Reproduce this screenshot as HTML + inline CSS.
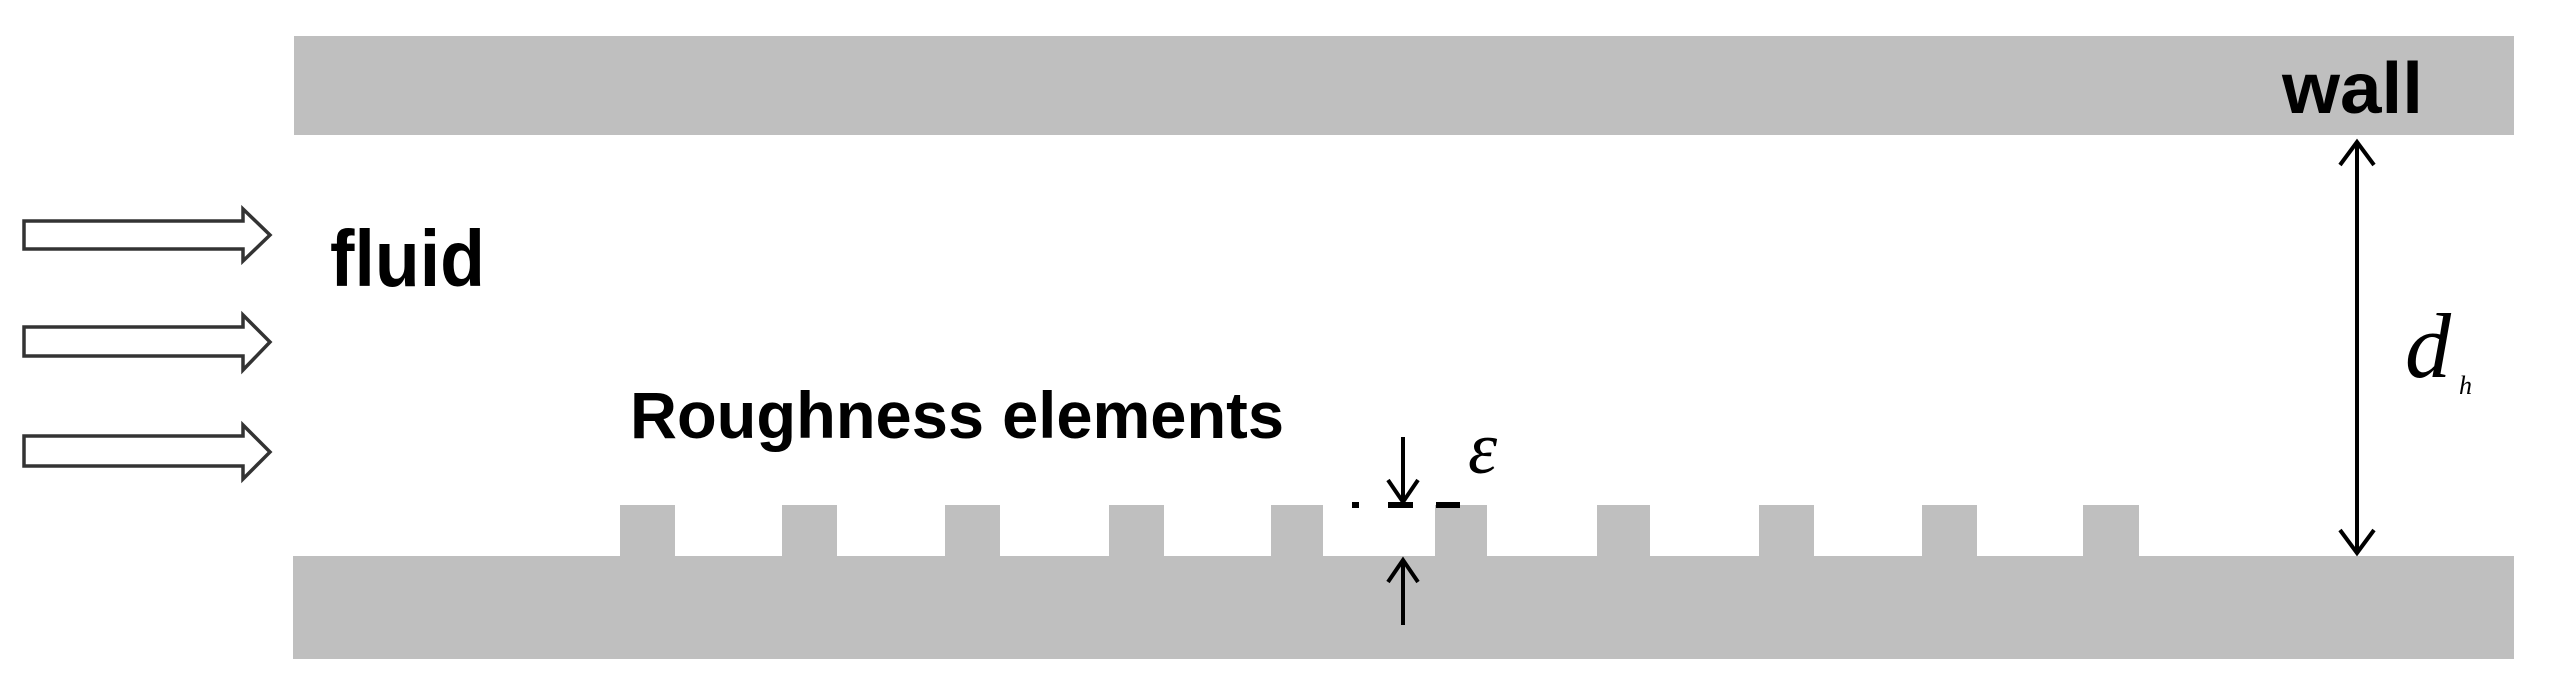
<!DOCTYPE html>
<html><head><style>html,body{margin:0;padding:0;background:#fff;}svg{display:block;}</style></head>
<body>
<svg width="2550" height="696" xmlns="http://www.w3.org/2000/svg">
<rect x="294" y="36" width="2220" height="99" fill="#bfbfbf"/>
<rect x="293" y="556" width="2221" height="103" fill="#bfbfbf"/>
<g fill="#bfbfbf">
<rect x="620" y="505" width="55" height="52"/>
<rect x="782" y="505" width="55" height="52"/>
<rect x="945" y="505" width="55" height="52"/>
<rect x="1109" y="505" width="55" height="52"/>
<rect x="1271" y="505" width="52" height="52"/>
<rect x="1435" y="505" width="52" height="52"/>
<rect x="1597" y="505" width="53" height="52"/>
<rect x="1759" y="505" width="55" height="52"/>
<rect x="1922" y="505" width="55" height="52"/>
<rect x="2083" y="505" width="56" height="52"/>
</g>
<g fill="#fff" stroke="#333" stroke-width="3.5">
<polygon points="24,221 243,221 243,209 270,235 243,261 243,249 24,249"/>
<polygon points="24,327 243,327 243,315 270,342 243,370 243,356 24,356"/>
<polygon points="24,436 243,436 243,425 270,452 243,479 243,466 24,466"/>
</g>
<text x="330" y="286" font-family="Liberation Sans, sans-serif" font-weight="bold" font-size="80" textLength="155" lengthAdjust="spacingAndGlyphs">fluid</text>
<text x="630" y="438" font-family="Liberation Sans, sans-serif" font-weight="bold" font-size="66" textLength="654" lengthAdjust="spacingAndGlyphs">Roughness elements</text>
<text x="2282" y="113" font-family="Liberation Sans, sans-serif" font-weight="bold" font-size="72" textLength="141" lengthAdjust="spacingAndGlyphs">wall</text>
<g stroke="#000" stroke-width="4" fill="none">
<line x1="2357" y1="142" x2="2357" y2="553"/>
<polyline points="2340,165 2357,142 2374,165"/>
<polyline points="2340,530 2357,553 2374,530"/>
<line x1="1403" y1="437" x2="1403" y2="502"/>
<polyline points="1388,480 1403,502 1418,480"/>
<line x1="1403" y1="560" x2="1403" y2="625"/>
<polyline points="1388,582 1403,560 1418,582"/>
</g>
<g stroke="#000" stroke-width="6">
<line x1="1352" y1="505" x2="1359" y2="505"/>
<line x1="1388" y1="505" x2="1413" y2="505"/>
<line x1="1436" y1="505" x2="1460" y2="505"/>
</g>
<text x="1468" y="473" font-family="Liberation Serif, serif" font-style="italic" font-size="74">ε</text>
<text x="2405" y="377" font-family="Liberation Serif, serif" font-style="italic" font-size="92">d</text>
<text x="2459" y="394" font-family="Liberation Serif, serif" font-style="italic" font-size="26">h</text>
</svg>
</body></html>
